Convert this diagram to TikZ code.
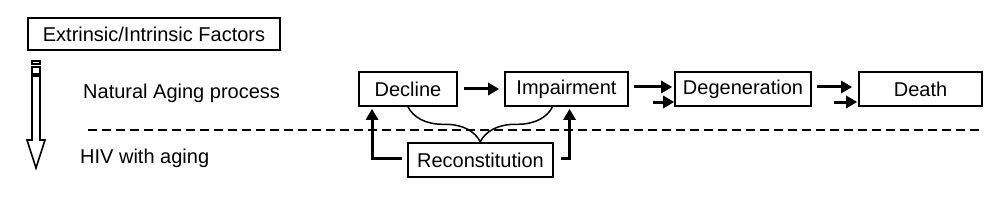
\documentclass[tikz,border=0pt]{standalone}
\usepackage{fontspec}
\setmainfont{Liberation Sans}
\usetikzlibrary{arrows.meta,positioning,calc,decorations.pathreplacing}

\begin{document}
\begin{tikzpicture}[
  x=1pt, y=1pt,
  stage/.style={rectangle, draw, line width=1.6pt, minimum height=34pt, inner sep=0pt, align=center, font=\fontsize{20}{24}\selectfont},
  label/.style={anchor=west, inner sep=0pt, font=\fontsize{20}{24}\selectfont},
  flow/.style={line width=3pt, -{Triangle[length=11pt,width=12pt]}},
  divide/.style={line width=1.8pt, dash pattern=on 9pt off 5pt}
]
  \useasboundingbox (0,0) rectangle (1000,201);

  \node[stage, minimum width=252pt, minimum height=32pt] (factors) at (154,167) {Extrinsic/Intrinsic Factors};
  \node[label] (natural) at (83,108) {Natural Aging process};
  \node[label] (hiv) at (80,43) {HIV with aging};

  \node[stage, minimum width=98pt] (decl) at (408,112) {Decline};
  \node[stage, minimum width=123pt] (imp) at (566.5,112) {Impairment};
  \node[stage, minimum width=136pt] (degen) at (743,112) {Degeneration};
  \node[stage, minimum width=123pt] (death) at (920.5,112) {Death};
  \node[stage, minimum width=145pt] (recon) at (480.5,41) {Reconstitution};

  \coordinate (sepL) at (88,71);
  \coordinate (sepR) at (982,71);
  \draw[divide] (sepL) -- (sepR);

  \draw[line width=1.6pt] (32,125) -- (32,61) -- (27,61) -- (36,33) -- (45,61) -- (40,61) -- (40,125) -- cycle;
  \draw[line width=1.4pt] (32,127) rectangle (40,134);
  \draw[line width=1.4pt] (32,137) rectangle (40,140);

  \draw[flow, shorten <=6pt, shorten >=5pt] (decl) -- (imp);
  \draw[flow] ([xshift=5pt,yshift=2pt]imp.east) -- ([xshift=-2pt,yshift=2pt]degen.west);
  \draw[flow] ([xshift=24pt,yshift=-13pt]imp.east) -- ([yshift=-13pt]degen.west);
  \draw[flow] ([xshift=5pt,yshift=2pt]degen.east) -- ([xshift=-6pt,yshift=2pt]death.west);
  \draw[flow] ([xshift=22pt,yshift=-13pt]degen.east) -- ([xshift=-1pt,yshift=-13pt]death.west);

  \draw[line width=1.5pt, decorate, decoration={brace, amplitude=35pt}] ([xshift=-14pt]imp.south) -- (decl.south);

  \draw[flow] ([xshift=-5pt,yshift=2pt]recon.west) -| ([xshift=-36pt,yshift=-2pt]decl.south);
  \draw[flow] ([xshift=7pt,yshift=2pt]recon.east) -| ([xshift=3pt,yshift=-2pt]imp.south);
\end{tikzpicture}
\end{document}
